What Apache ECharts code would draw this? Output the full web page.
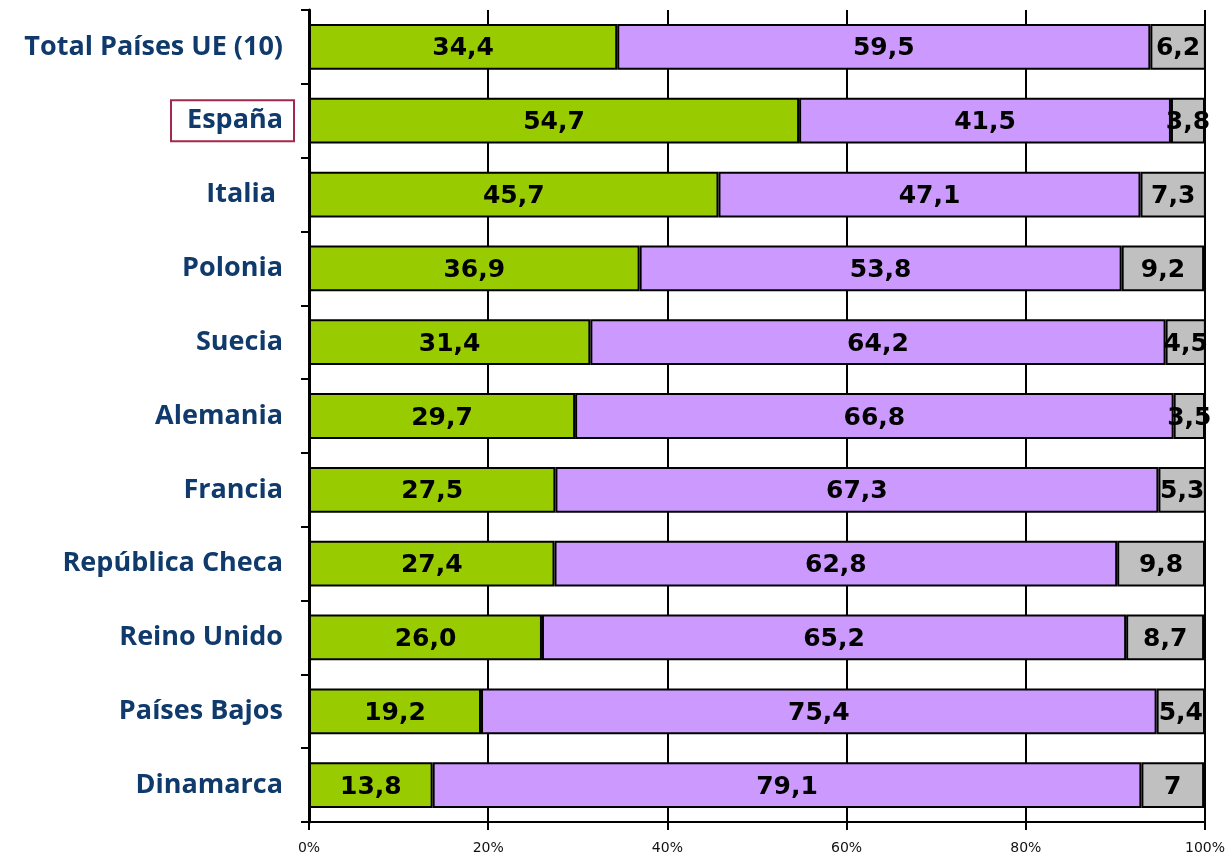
<!DOCTYPE html>
<html>
<head>
<meta charset="utf-8">
<script src="https://cdn.jsdelivr.net/npm/echarts@6/dist/echarts.min.js"></script>
<style>
  html, body { margin: 0; padding: 0; background: #fff; }
  #main { width: 1229px; height: 855px; }
</style>
</head>
<body>
<div id="main"></div>
<script>
// categories top to bottom
const countries = ['Total Países UE (10)', 'España', 'Italia ', 'Polonia', 'Suecia', 'Alemania',
    'Francia', 'República Checa', 'Reino Unido', 'Países Bajos', 'Dinamarca'];
const greenValues = [34.4, 54.7, 45.7, 36.9, 31.4, 29.7, 27.5, 27.4, 26.0, 19.2, 13.8];
const purpleValues = [59.5, 41.5, 47.1, 53.8, 64.2, 66.8, 67.3, 62.8, 65.2, 75.4, 79.1];
const grayValues = [6.2, 3.8, 7.3, 9.2, 4.5, 3.5, 5.3, 9.8, 8.7, 5.4, 7];
const xTicks = [0, 20, 40, 60, 80, 100];

const chart = echarts.init(document.getElementById('main'));

const labelFont = {
    show: true,
    position: 'inside',
    color: '#000',
    fontFamily: 'DejaVu Sans',
    fontWeight: 'bold',
    fontSize: 25,
    offset: [0, 2]
};

function seg(name, values, color, fmt) {
    return {
        name: name,
        type: 'bar',
        stack: 'total',
        data: values,
        barCategoryGap: '38%',
        itemStyle: { color: color, borderColor: '#000', borderWidth: 2 },
        label: Object.assign({}, labelFont, { formatter: fmt })
    };
}

const oneDec = (p) => p.value.toFixed(1).replace('.', ',');
const asIs = (p) => String(p.value).replace('.', ',');

const catStyle = {
    color: '#0f3a6b',
    fontFamily: 'Open Sans',
    fontWeight: 'bold',
    fontSize: 27
};

const option = {
    animation: false,
    grid: { left: 309, right: 24, top: 10, bottom: 33 },
    xAxis: {
        type: 'value',
        min: 0,
        max: 100,
        interval: 20,
        axisLine: { show: true, lineStyle: { color: '#000', width: 2 } },
        axisTick: { show: true, length: 8, lineStyle: { color: '#000', width: 2 } },
        splitLine: { show: true, lineStyle: { color: '#000', width: 2 } },
        axisLabel: {
            margin: 19,
            color: '#111',
            fontFamily: 'DejaVu Sans',
            fontSize: 14,
            formatter: (v) => xTicks.includes(v) ? v + '%' : ''
        }
    },
    yAxis: {
        type: 'category',
        inverse: true,
        data: countries,
        axisLine: { show: true, lineStyle: { color: '#000', width: 3 } },
        axisTick: { show: true, length: 8, lineStyle: { color: '#000', width: 2 } },
        axisLabel: {
            margin: 15,
            formatter: (v) => v === 'España' ? '{box|' + v + '}' : '{n|' + v + '}',
            rich: {
                n: Object.assign({}, catStyle, { padding: [0, 11, 0, 0] }),
                box: Object.assign({}, catStyle, {
                    borderColor: '#a3284e',
                    borderWidth: 2,
                    padding: [7, 11, 7, 16]
                })
            }
        }
    },
    series: [
        seg('green', greenValues, '#99cc00', oneDec),
        seg('purple', purpleValues, '#cc99ff', oneDec),
        seg('gray', grayValues, '#c0c0c0', asIs)
    ]
};

chart.setOption(option);
</script>
</body>
</html>
